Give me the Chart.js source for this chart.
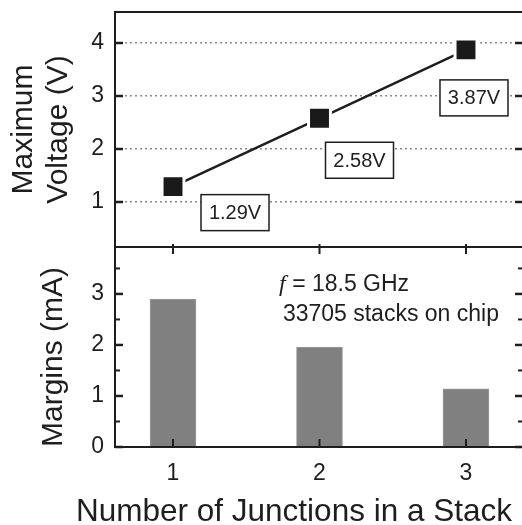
<!DOCTYPE html>
<html>
<head>
<meta charset="utf-8">
<script src="https://cdn.jsdelivr.net/npm/chart.js@4"></script>
<style>
  html, body { margin: 0; padding: 0; background: #fff; overflow: hidden; }
  #wrap { width: 526px; height: 525px; }
</style>
</head>
<body>
<div id="wrap"><canvas id="chart"></canvas></div>
<script>
const junctions = [1, 2, 3];
const maxVoltage = [1.29, 2.58, 3.87];
const margins = [2.9, 1.96, 1.14];
const voltageTicks = [1, 2, 3, 4];
const marginTicks = [0, 1, 2, 3];
const marginMinorTicks = [0.5, 1.5, 2.5, 3.5];
const noteLines = [' = 18.5 GHz', '33705 stacks on chip'];
const xTitle = 'Number of Junctions in a Stack';

const FONT = "'Liberation Sans', Arial, Helvetica, sans-serif";
const INK = '#1e1e1e';

// where the value boxes sit, relative to their marker
const boxOffsets = [[62, 26], [40, 42], [8, 48]];

const line = (ctx, x1, y1, x2, y2) => {
    ctx.beginPath();
    ctx.moveTo(x1, y1);
    ctx.lineTo(x2, y2);
    ctx.stroke();
};

// keep the plot area where the picture has it, not where the tick labels would push it
const fixY = s => { s.width = 115; s.paddingTop = 0; s.paddingBottom = 0; };
const fixX = s => { s.height = 78; s.paddingLeft = 0; s.paddingRight = 0; };

const decorations = {
    id: 'decorations',
    afterDraw(chart) {
        const ctx = chart.ctx;
        const a = chart.chartArea;
        const x = chart.scales.x, yV = chart.scales.yV, yM = chart.scales.yM;
        ctx.save();
        ctx.strokeStyle = INK;

        // panel frames
        ctx.lineWidth = 2;
        [yV, yM].forEach(s => ctx.strokeRect(a.left, s.top, a.right - a.left, s.bottom - s.top));

        // inward ticks
        ctx.lineWidth = 2.5;
        voltageTicks.forEach(v => {
            const y = yV.getPixelForValue(v);
            line(ctx, a.left, y, a.left + 8, y);
            line(ctx, a.right - 9, y, a.right, y);
        });
        marginTicks.forEach(v => {
            const y = yM.getPixelForValue(v);
            line(ctx, a.left, y, a.left + 8, y);
            line(ctx, a.right - 9, y, a.right, y);
        });
        ctx.lineWidth = 2;
        marginMinorTicks.forEach(v => {
            const y = yM.getPixelForValue(v);
            line(ctx, a.left, y, a.left + 5, y);
            line(ctx, a.right - 6, y, a.right, y);
        });
        junctions.forEach(v => {
            const px = x.getPixelForValue(v);
            line(ctx, px, yM.bottom, px, yM.bottom - 8);
            line(ctx, px, yV.bottom - 3, px, yV.bottom + 7);
        });

        // value boxes
        const meta = chart.getDatasetMeta(0);
        ctx.font = '20px ' + FONT;
        ctx.textAlign = 'center';
        ctx.textBaseline = 'middle';
        meta.data.forEach((pt, i) => {
            const cx = pt.x + boxOffsets[i][0], cy = pt.y + boxOffsets[i][1];
            ctx.fillStyle = '#fff';
            ctx.fillRect(cx - 34, cy - 18, 68, 36);
            ctx.lineWidth = 1.5;
            ctx.strokeRect(cx - 34, cy - 18, 68, 36);
            ctx.fillStyle = INK;
            ctx.fillText(maxVoltage[i].toFixed(2) + 'V', cx, cy + 1);
        });

        // note
        ctx.textAlign = 'left';
        const nx = x.getPixelForValue(1.724);
        const ny1 = yM.getPixelForValue(3.18), ny2 = yM.getPixelForValue(2.59);
        ctx.font = "italic 24px 'Liberation Serif', 'Times New Roman', serif";
        ctx.fillText('f', nx, ny1);
        const fw = ctx.measureText('f').width;
        ctx.font = '23px ' + FONT;
        ctx.fillText(noteLines[0], nx + fw, ny1);
        ctx.fillText(noteLines[1], x.getPixelForValue(1.75), ny2);

        // x title
        ctx.textAlign = 'center';
        ctx.font = '31.5px ' + FONT;
        ctx.fillText(xTitle, a.left + 179, 512);
        ctx.restore();
    }
};

new Chart(document.getElementById('chart'), {
    type: 'bar',
    data: {
        datasets: [
            {
                type: 'line',
                data: junctions.map((j, i) => ({ x: j, y: maxVoltage[i] })),
                xAxisID: 'x',
                yAxisID: 'yV',
                borderColor: INK,
                borderWidth: 2.5,
                pointStyle: 'rect',
                pointRadius: 15.5,
                pointHoverRadius: 15.5,
                pointBackgroundColor: '#1a1a1a',
                pointBorderColor: '#fff',
                pointBorderWidth: 3,
                tension: 0,
                fill: false
            },
            {
                type: 'bar',
                data: junctions.map((j, i) => ({ x: j, y: margins[i] })),
                xAxisID: 'x',
                yAxisID: 'yM',
                backgroundColor: '#808080',
                borderColor: '#9c9c9c',
                borderWidth: 1,
                barThickness: 46
            }
        ]
    },
    options: {
        responsive: true,
        maintainAspectRatio: false,
        animation: false,
        layout: { autoPadding: false, padding: { top: 12, right: 2, bottom: 0, left: 0 } },
        plugins: { legend: { display: false }, tooltip: { enabled: false } },
        scales: {
            x: {
                type: 'linear',
                min: 0.604,
                max: 3.396,
                offset: false,
                afterBuildTicks: s => { s.ticks = junctions.map(v => ({ value: v })); },
                afterFit: fixX,
                grid: { display: false },
                border: { display: false },
                ticks: { font: { family: FONT, size: 23 }, color: INK, padding: 5 }
            },
            yV: {
                type: 'linear',
                position: 'left',
                stack: 'panels',
                stackWeight: 235,
                weight: 2,
                min: 0.151,
                max: 4.585,
                afterBuildTicks: s => { s.ticks = voltageTicks.map(v => ({ value: v })); },
                afterFit: fixY,
                grid: { color: '#8a8a8a', lineWidth: 1.5, drawTicks: false },
                border: { display: false, dash: [2, 3] },
                ticks: { font: { family: FONT, size: 23 }, color: INK, padding: 11 },
                title: {
                    display: true,
                    text: ['Maximum', 'Voltage (V)'],
                    font: { family: FONT, size: 30, lineHeight: 1.18 },
                    color: INK,
                    padding: { top: 6, bottom: 0 }
                }
            },
            yM: {
                type: 'linear',
                position: 'left',
                stack: 'panels',
                stackWeight: 200,
                weight: 1,
                min: 0,
                max: 3.92,
                afterBuildTicks: s => { s.ticks = marginTicks.map(v => ({ value: v })); },
                afterFit: fixY,
                grid: { display: false, drawTicks: false },
                border: { display: false },
                ticks: { font: { family: FONT, size: 23 }, color: INK, padding: 11 },
                title: {
                    display: true,
                    text: 'Margins (mA)',
                    align: 'start',
                    font: { family: FONT, size: 30, lineHeight: 1.18 },
                    color: INK,
                    padding: { top: 36, bottom: 0 }
                }
            }
        }
    },
    plugins: [decorations]
});
</script>
</body>
</html>
